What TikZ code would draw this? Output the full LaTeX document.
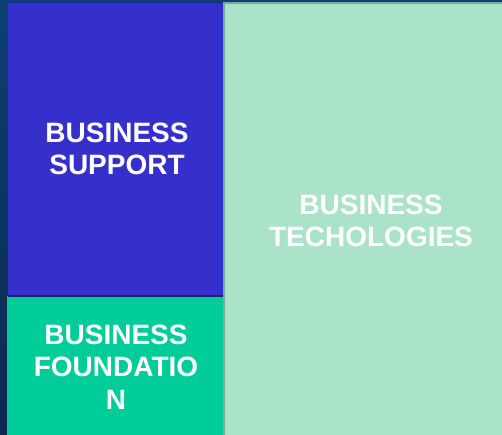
\documentclass[tikz,border=0pt]{standalone}
\usepackage{fontspec}
\setmainfont{Liberation Sans}
\usepackage{tikz}

\definecolor{supportblue}{HTML}{3530CB}
\definecolor{foundgreen}{HTML}{00CC99}
\definecolor{techgreen}{HTML}{ABE3C9}
\definecolor{techedge}{HTML}{7FA898}
\definecolor{bgtop}{HTML}{0C4070}
\definecolor{bgbot}{HTML}{0A2A52}

\tikzset{
    blocklabel/.style={text=white, align=center, font=\fontsize{28}{32.5}\selectfont\bfseries}
}

\begin{document}
\begin{tikzpicture}[x=1pt, y=1pt]
                \useasboundingbox (0,0) rectangle (502,434);
                % Backdrop
                \shade[top color=bgtop, bottom color=bgbot] (0,0) rectangle (502,434);

                % Technologies block
                \fill[techgreen] (223,-2) rectangle (504,432);
                \draw[techedge, line width=2.5pt] (224.2,-2) -- (224.2,431) -- (504,431);

                % Support block
                \fill[supportblue] (8,138) rectangle (223,431);
                \draw[supportblue!70!black, line width=1pt] (8,431) -- (223,431);

                % Foundation block
                \fill[foundgreen] (7,-2) rectangle (223,138);
                \draw[supportblue!60!black, line width=1.5pt] (8,138) -- (223,138);

                % Labels
                \node[blocklabel] (support) at (117,285) {BUSINESS\\SUPPORT};
                \node[blocklabel] (tech) at (371,213) {BUSINESS\\TECHOLOGIES};
                \node[blocklabel] (found) at (116,67) {BUSINESS\\FOUNDATIO\\N};

            \end{tikzpicture}
\end{document}
